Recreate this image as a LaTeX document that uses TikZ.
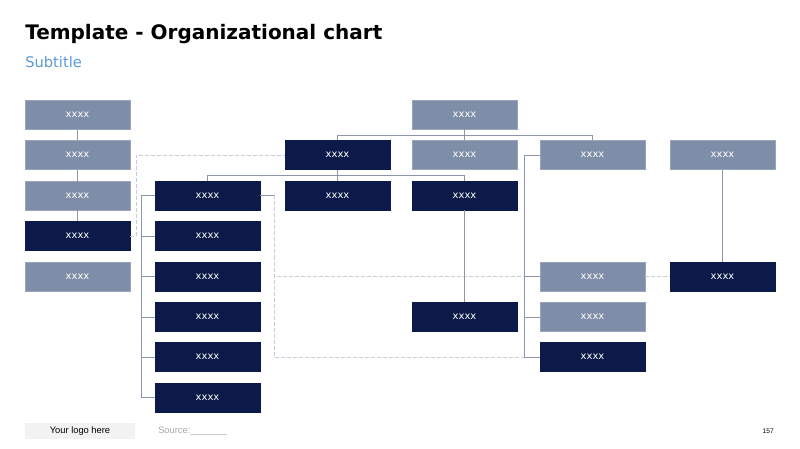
\documentclass[tikz,border=0pt]{standalone}
\usepackage{fontspec}
\setmainfont{DejaVu Sans}
\newfontfamily\footfont{Liberation Sans}
\definecolor{boxlight}{HTML}{7F8EA8}
\definecolor{boxdark}{HTML}{0B1A48}
\definecolor{linegray}{HTML}{8C95AC}
\definecolor{dashgray}{HTML}{C6CCD8}
\definecolor{subblue}{HTML}{5B9BD5}
\tikzset{
  unit/.style={rectangle,inner sep=0pt,minimum width=78.75pt,minimum height=21.75pt,
    text=white,font=\fontsize{7.5}{8}\selectfont},
  light/.style={unit,fill=boxlight,draw=boxlight!80!white,line width=0.4pt},
  dark/.style={unit,fill=boxdark,draw=boxdark,line width=0.4pt},
  link/.style={draw=linegray,line width=0.6pt},
  dlink/.style={draw=dashgray,line width=0.6pt,dash pattern=on 3pt off 1.5pt},
}
\begin{document}
\begin{tikzpicture}[x=0.75pt,y=-0.75pt]
\useasboundingbox(0,0)rectangle(800,449);
%title
\node[anchor=base west,inner sep=0pt,font=\fontsize{15}{17}\selectfont\bfseries](title)at(25,40){Template - Organizational chart};
\node[anchor=base west,inner sep=0pt,text=subblue,font=\fontsize{11}{13}\selectfont](subtitle)at(25,67.5){Subtitle};
%column 1
\node[light](a1)at(77.5,114.5){xxxx};
\node[light](a2)at(77.5,155){xxxx};
\node[light](a3)at(77.5,195.5){xxxx};
\node[dark](a4)at(77.5,236){xxxx};
\node[light](a5)at(77.5,276.5){xxxx};
%column 2
\node[dark](b3)at(207.5,195.5){xxxx};
\node[dark](b4)at(207.5,236){xxxx};
\node[dark](b5)at(207.5,276.5){xxxx};
\node[dark](b6)at(207.5,317){xxxx};
\node[dark](b7)at(207.5,357){xxxx};
\node[dark](b8)at(207.5,397.5){xxxx};
%column 3
\node[dark](c2)at(337.5,155){xxxx};
\node[dark](c3)at(337.5,195.5){xxxx};
%column 4
\node[light](d1)at(464.5,114.5){xxxx};
\node[light](d2)at(464.5,155){xxxx};
\node[dark](d3)at(464.5,195.5){xxxx};
\node[dark](d6)at(464.5,317){xxxx};
%column 5
\node[light](e2)at(592.5,155){xxxx};
\node[light](e5)at(592.5,276.5){xxxx};
\node[light](e6)at(592.5,317){xxxx};
\node[dark](e7)at(592.5,357){xxxx};
%column 6
\node[light](f2)at(722.5,155){xxxx};
\node[dark](f5)at(722.5,276.5){xxxx};
%dashed links
\draw[dlink](a4.east)--++(6,0)|-(c2.west);
\draw[link](b3.east)--++(14,0)coordinate(bk);
\draw[dlink](bk)|-(e5.west);
\draw[dlink](e5.east)--(f5.west);
\draw[dlink](bk)|-(e7.west);
%solid links
\draw[link](a1)--(a2);
\draw[link](a2)--(a3);
\draw[link](a3)--(a4);
\draw[link](d1)--(d2);
\draw[link](d1.south)--++(0,5.75)-|(c2.north);
\draw[link](d1.south)--++(0,5.75)-|(e2.north);
\draw[link](c2)--(c3);
\draw[link](c2.south)--++(0,5.5)-|(b3.north);
\draw[link](c2.south)--++(0,5.5)-|(d3.north);
\draw[link](d3)--(d6);
\foreach \n in {4,...,8}{\draw[link](b3.west)--++(-13,0)|-(b\n.west);}
\foreach \n in {5,6,7}{\draw[link](e2.west)--++(-15,0)|-(e\n.west);}
\draw[link](f2)--(f5);
%footer
\node[fill=black!5,minimum width=82.5pt,minimum height=11.5pt,inner sep=0pt,font=\footfont\fontsize{7}{8}\selectfont](logo)at(80,431){Your logo here};
\node[anchor=west,inner sep=0pt,text=black!35,font=\footfont\fontsize{7}{8}\selectfont](source)at(158,431){Source:\_\_\_\_\_\_\_};
\node[anchor=east,inner sep=0pt,font=\footfont\fontsize{5}{6}\selectfont](page)at(774,431){157};
\end{tikzpicture}
\end{document}
